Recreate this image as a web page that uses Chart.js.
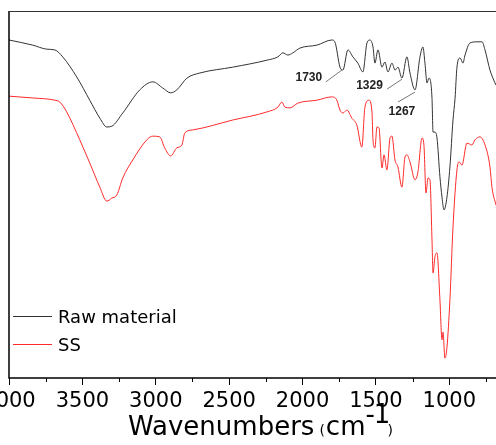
<!DOCTYPE html>
<html>
<head>
<meta charset="utf-8">
<script src="https://cdn.jsdelivr.net/npm/chart.js@4/dist/chart.umd.min.js"></script>
<style>
  body { margin: 0; background: #fff; }
  #wrap { width: 496px; height: 445px; }
</style>
</head>
<body>
<div id="wrap"><canvas id="grafico"></canvas></div>
<script>
// espectro da materia-prima (numero de onda, transmitancia relativa)
const rawWn = [4000, 3838, 3743, 3688, 3634, 3538, 3450, 3381, 3334, 3300, 3225, 3109, 3020, 2952, 2898, 2857, 2788, 2700, 2475, 2243, 2168, 2134, 2100, 2066, 2018, 1902, 1800, 1780, 1745, 1725, 1691, 1657, 1623, 1589, 1561, 1541, 1520, 1507, 1486, 1459, 1439, 1418, 1391, 1370, 1350, 1323, 1289, 1268, 1234, 1200, 1180, 1166, 1152, 1139, 1118, 1111, 1098, 1084, 1064, 1050, 1036, 1016, 996, 975, 961, 948, 927, 907, 893, 859, 811, 777, 757, 723, 689, 682];
const rawT = [92.1, 90.7, 89.6, 89.4, 87.5, 82.0, 75.7, 70.8, 68.4, 68.6, 72.2, 78.5, 80.7, 79.0, 77.7, 78.5, 81.7, 83.1, 84.7, 86.6, 87.5, 88.6, 88.0, 88.6, 89.9, 90.7, 92.1, 91.6, 84.7, 83.9, 89.4, 87.5, 85.8, 83.4, 91.3, 92.1, 90.2, 85.8, 89.4, 84.7, 86.1, 83.4, 85.8, 83.9, 84.7, 81.7, 87.5, 83.1, 78.5, 87.5, 90.2, 85.8, 80.4, 81.7, 76.2, 67.0, 67.0, 65.4, 54.8, 49.3, 45.8, 49.3, 57.5, 70.3, 76.2, 84.7, 87.2, 85.8, 88.0, 91.3, 91.6, 91.6, 89.4, 83.9, 80.4, 79.8];

// espectro SS
const ssWn = [4000, 3838, 3688, 3654, 3607, 3518, 3450, 3381, 3334, 3300, 3265, 3225, 3157, 3061, 3020, 2973, 2939, 2898, 2857, 2822, 2802, 2748, 2475, 2243, 2168, 2141, 2120, 2086, 2032, 1902, 1800, 1766, 1745, 1725, 1698, 1664, 1630, 1596, 1575, 1548, 1527, 1520, 1507, 1493, 1479, 1459, 1445, 1425, 1404, 1391, 1370, 1350, 1323, 1302, 1289, 1268, 1234, 1214, 1186, 1173, 1159, 1145, 1132, 1118, 1111, 1098, 1084, 1064, 1050, 1043, 1030, 1016, 996, 975, 948, 934, 914, 880, 846, 825, 791, 757, 723, 709, 682];
const ssT = [76.8, 76.3, 75.7, 75.2, 72.5, 64.9, 58.6, 52.0, 48.2, 49.0, 49.9, 54.5, 59.4, 64.9, 65.9, 65.7, 62.7, 60.5, 62.7, 63.5, 66.8, 67.6, 70.3, 72.5, 73.8, 75.2, 73.8, 73.6, 74.9, 75.7, 76.6, 75.7, 73.0, 72.2, 73.0, 70.8, 68.9, 62.9, 73.8, 75.7, 72.5, 64.9, 62.7, 68.4, 68.1, 57.2, 60.8, 56.7, 65.4, 65.9, 59.4, 57.5, 52.0, 60.2, 60.8, 58.9, 54.0, 56.1, 65.4, 63.5, 50.4, 54.5, 54.0, 37.6, 28.6, 33.0, 34.1, 21.3, 10.4, 12.5, 5.4, 8.4, 21.3, 41.1, 56.7, 58.9, 58.0, 64.0, 63.5, 64.9, 65.7, 63.5, 57.5, 51.8, 47.1];

const seriesNames = ["Raw material", "SS"];
const majorTicks = [4000, 3500, 3000, 2500, 2000, 1500, 1000];
const minorTicks = [3750, 3250, 2750, 2250, 1750, 1250, 750];

// bandas marcadas: texto e linha-guia (em unidades dos eixos)
const bandas = [
  { texto: "1730", tx: 1957, ty: 81.9, x1: 1841, y1: 80.7, x2: 1732, y2: 83.9 },
  { texto: "1329", tx: 1544, ty: 79.6, x1: 1425, y1: 78.7, x2: 1323, y2: 81.4 },
  { texto: "1267", tx: 1323, ty: 72.6, x1: 1350, y1: 75.2, x2: 1234, y2: 77.9 }
];

const pontos = (xs, ys) => xs.map((x, i) => ({ x: x, y: ys[i] }));

const extras = {
  id: "extras",
  afterDraw(chart) {
    const ctx = chart.ctx;
    const a = chart.chartArea;
    const sx = chart.scales.x, sy = chart.scales.y;
    ctx.save();

    // moldura
    ctx.strokeStyle = "#000";
    ctx.lineWidth = 1.5;
    ctx.beginPath();
    ctx.moveTo(a.left, a.top);
    ctx.lineTo(a.left, a.bottom);
    ctx.lineTo(a.right, a.bottom);
    ctx.stroke();
    ctx.lineWidth = 1;
    ctx.strokeStyle = "#333";
    ctx.beginPath();
    ctx.moveTo(a.left, a.top + 0.5);
    ctx.lineTo(a.right, a.top + 0.5);
    ctx.stroke();

    // ticks menores
    ctx.strokeStyle = "#000";
    ctx.lineWidth = 1;
    minorTicks.forEach(v => {
      const px = Math.round(sx.getPixelForValue(v)) + 0.5;
      ctx.beginPath();
      ctx.moveTo(px, a.bottom);
      ctx.lineTo(px, a.bottom + 4);
      ctx.stroke();
    });

    // titulo do eixo x
    ctx.fillStyle = "#000";
    ctx.textBaseline = "alphabetic";
    ctx.textAlign = "left";
    const big = "26px 'DejaVu Sans'";
    const small = "14px 'DejaVu Sans'";
    let x = 128;
    const base = 435;
    ctx.font = big;
    ctx.fillText("Wavenumbers", x, base);
    x += ctx.measureText("Wavenumbers").width + 5;
    ctx.font = small;
    ctx.fillText("(", x, base);
    x += ctx.measureText("(").width + 1;
    ctx.font = big;
    ctx.fillText("cm", x, base);
    x += ctx.measureText("cm").width;
    ctx.fillText("-", x, base - 12);
    x += ctx.measureText("-").width - 1;
    ctx.fillText("1", x, base - 12);
    x += ctx.measureText("1").width - 3;
    ctx.font = small;
    ctx.fillText(")", x, base);

    // legenda
    ctx.font = "18px 'DejaVu Sans'";
    ctx.textBaseline = "middle";
    const legY = [316, 344];
    chart.data.datasets.forEach((ds, i) => {
      ctx.strokeStyle = ds.borderColor;
      ctx.lineWidth = 1;
      ctx.beginPath();
      ctx.moveTo(13, legY[i] + 0.5);
      ctx.lineTo(52, legY[i] + 0.5);
      ctx.stroke();
      ctx.fillStyle = "#000";
      ctx.fillText(ds.label, 58, legY[i] + 2);
    });

    // anotacoes das bandas
    ctx.font = "bold 12px Arial, 'Liberation Sans'";
    ctx.textAlign = "center";
    bandas.forEach(b => {
      ctx.strokeStyle = "#555";
      ctx.lineWidth = 0.8;
      ctx.beginPath();
      ctx.moveTo(sx.getPixelForValue(b.x1), sy.getPixelForValue(b.y1));
      ctx.lineTo(sx.getPixelForValue(b.x2), sy.getPixelForValue(b.y2));
      ctx.stroke();
      ctx.fillStyle = "#222";
      ctx.fillText(b.texto, sx.getPixelForValue(b.tx), sy.getPixelForValue(b.ty));
    });

    ctx.restore();
  }
};

new Chart(document.getElementById("grafico"), {
  type: "line",
  data: {
    datasets: [
      { label: seriesNames[0], data: pontos(rawWn, rawT), borderColor: "#333333", borderWidth: 1, pointRadius: 0, cubicInterpolationMode: "monotone" },
      { label: seriesNames[1], data: pontos(ssWn, ssT), borderColor: "#ff2a2a", borderWidth: 1, pointRadius: 0, cubicInterpolationMode: "monotone" }
    ]
  },
  options: {
    responsive: true,
    maintainAspectRatio: false,
    animation: false,
    layout: { padding: { top: 11, left: 9, right: 0, bottom: 0 } },
    plugins: {
      legend: { display: false },
      tooltip: { enabled: false }
    },
    scales: {
      x: {
        type: "linear",
        reverse: true,
        min: 682,
        max: 4000,
        afterBuildTicks: s => { s.ticks = majorTicks.map(v => ({ value: v })); },
        afterFit: s => { s.height = 67; s.paddingLeft = 0; s.paddingRight = 0; },
        border: { display: false },
        grid: { drawOnChartArea: false, drawTicks: true, tickLength: 7, color: "#000", lineWidth: 1 },
        ticks: {
          autoSkip: false,
          maxRotation: 0,
          padding: 4,
          color: "#000",
          font: { family: "'DejaVu Sans'", size: 21 },
          callback: v => String(v)
        }
      },
      y: {
        display: false,
        min: 0,
        max: 100
      }
    }
  },
  plugins: [extras]
});
</script>
</body>
</html>
